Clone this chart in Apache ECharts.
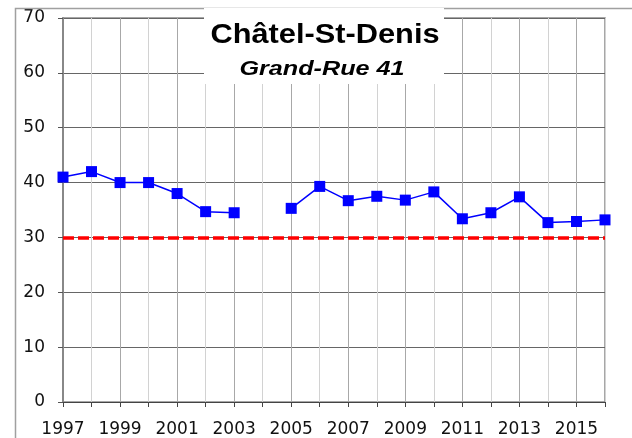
<!DOCTYPE html>
<html>
<head>
<meta charset="utf-8">
<script src="https://cdn.jsdelivr.net/npm/echarts@6/dist/echarts.min.js"></script>
<style>html,body{margin:0;padding:0;background:#fff;}#c{width:632px;height:438px;}</style>
</head>
<body>
<div id="c"></div>
<script>
const years = ['1997','1998','1999','2000','2001','2002','2003','2004','2005','2006','2007','2008','2009','2010','2011','2012','2013','2014','2015','2016'];
const values = [41, 42, 40, 40, 38, 34.7, 34.5, null, 35.3, 39.3, 36.7, 37.5, 36.8, 38.3, 33.4, 34.5, 37.4, 32.7, 32.9, 33.2];
const limitValue = 30;
const titleText = 'Châtel-St-Denis';
const subtitleText = 'Grand-Rue 41';

const chart = echarts.init(document.getElementById('c'), null, {renderer: 'canvas'});
chart.setOption({
  animation: false,
  backgroundColor: '#fff',
  grid: {left: 63, top: 18, right: 27, bottom: 35, show: true, borderColor: '#8a8a8a', borderWidth: 1.5, backgroundColor: 'transparent'},
  xAxis: {
    type: 'category',
    data: years,
    boundaryGap: false,
    axisLine: {lineStyle: {color: '#444', width: 1}},
    axisTick: {show: true, interval: 0, length: 5, lineStyle: {color: '#444'}},
    axisLabel: {interval: 1, fontFamily: 'DejaVu Sans', fontSize: 17, color: '#111', margin: 19},
    splitLine: {show: true, interval: 0, lineStyle: {color: ['#a8a8a8', '#d2d2d2'], width: 1}}
  },
  yAxis: {
    type: 'value',
    min: 0, max: 70, interval: 10,
    axisLine: {show: true, lineStyle: {color: '#888', width: 2}},
    axisTick: {show: true, length: 5, lineStyle: {color: '#555'}},
    axisLabel: {fontFamily: 'DejaVu Sans', fontSize: 17, color: '#111', margin: 18},
    splitLine: {show: true, lineStyle: {color: '#666', width: 1}}
  },
  series: [{
    type: 'line',
    data: values,
    connectNulls: false,
    symbol: 'rect',
    symbolSize: 11,
    itemStyle: {color: '#0000ff'},
    lineStyle: {color: '#0000ff', width: 1.5},
    z: 5,
    markLine: {
      silent: true,
      symbol: ['none', 'none'],
      label: {show: false},
      lineStyle: {color: '#ff0000', width: 3.5, type: [11, 4]},
      data: [{yAxis: limitValue}],
      z: 4
    }
  }],
  graphic: [
    {type: 'rect', left: 13, top: 6, z: 50, silent: true,
     shape: {width: 700, height: 500},
     style: {fill: 'none', stroke: '#a0a0a0', lineWidth: 1.5}},
    {type: 'rect', z: 60, silent: true, x: 204, y: 8,
     shape: {width: 240, height: 76},
     style: {fill: '#fff'}},
    {type: 'text', z: 61, x: 325, y: 36, scaleX: 1.14, silent: true,
     style: {text: titleText, font: 'bold 27px "Liberation Sans", Arial, sans-serif', fill: '#000', align: 'center', verticalAlign: 'middle'}},
    {type: 'text', z: 61, x: 322, y: 69.5, scaleX: 1.2, silent: true,
     style: {text: subtitleText, font: 'italic bold 21px "Liberation Sans", Arial, sans-serif', fill: '#000', align: 'center', verticalAlign: 'middle'}}
  ]
});
</script>
</body>
</html>
